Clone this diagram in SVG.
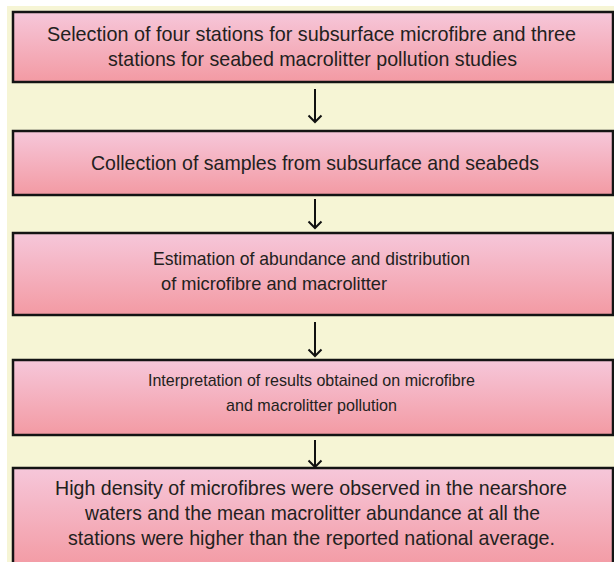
<svg xmlns="http://www.w3.org/2000/svg" width="614" height="562" viewBox="0 0 614 562">
<defs>
<linearGradient id="pk" x1="0" y1="0" x2="0" y2="1">
<stop offset="0" stop-color="#f6c7da"/>
<stop offset="1" stop-color="#f39aa3"/>
</linearGradient>
<style>
.box{fill:url(#pk);stroke:#141414;stroke-width:2.5}
.t{font-family:"Liberation Sans",Arial,sans-serif;font-size:21px;fill:#231f20;text-anchor:middle}
.m{font-size:19px}
.s{font-size:17px}
.ar{fill:none;stroke:#111;stroke-width:2;stroke-linecap:butt}
</style>
</defs>
<rect x="0" y="0" width="614" height="562" fill="#ffffff"/>
<rect x="7" y="6" width="607" height="556" fill="#f6f5d5"/>
<g id="connectors">
<path class="ar" d="M315 89V122M308.5 115.5L315 122L321.5 115.5"/>
<path class="ar" d="M315 199V228M308.5 221.5L315 228L321.5 221.5"/>
<path class="ar" d="M315 322V356M308.5 349.5L315 356L321.5 349.5"/>
<path class="ar" d="M315 440V467M308.5 460.5L315 467L321.5 460.5"/>
</g>
<g id="n1">
<rect class="box" x="13" y="12" width="600" height="70"/>
<text class="t" x="311.5" y="41" textLength="529" lengthAdjust="spacingAndGlyphs">Selection of four stations for subsurface microfibre and three</text>
<text class="t" x="312.5" y="66" textLength="409" lengthAdjust="spacingAndGlyphs">stations for seabed macrolitter pollution studies</text>
</g>
<g id="n2">
<rect class="box" x="13" y="131" width="600" height="64"/>
<text class="t" x="315" y="170" textLength="448" lengthAdjust="spacingAndGlyphs">Collection of samples from subsurface and seabeds</text>
</g>
<g id="n3">
<rect class="box" x="13" y="233" width="600" height="82"/>
<text class="t m" x="311.5" y="265" textLength="317" lengthAdjust="spacingAndGlyphs">Estimation of abundance and distribution</text>
<text class="t m" x="274" y="290" textLength="226" lengthAdjust="spacingAndGlyphs">of microfibre and macrolitter</text>
</g>
<g id="n4">
<rect class="box" x="13" y="360" width="600" height="75"/>
<text class="t s" x="311.5" y="386" textLength="327" lengthAdjust="spacingAndGlyphs">Interpretation of results obtained on microfibre</text>
<text class="t s" x="311.5" y="411" textLength="171" lengthAdjust="spacingAndGlyphs">and macrolitter pollution</text>
</g>
<g id="n5">
<rect class="box" x="13" y="468" width="600" height="100"/>
<text class="t" x="311" y="495" textLength="512" lengthAdjust="spacingAndGlyphs">High density of microfibres were observed in the nearshore</text>
<text class="t" x="312.5" y="520" textLength="455" lengthAdjust="spacingAndGlyphs">waters and the mean macrolitter abundance at all the</text>
<text class="t" x="311.5" y="545" textLength="487" lengthAdjust="spacingAndGlyphs">stations were higher than the reported national average.</text>
</g>
</svg>
